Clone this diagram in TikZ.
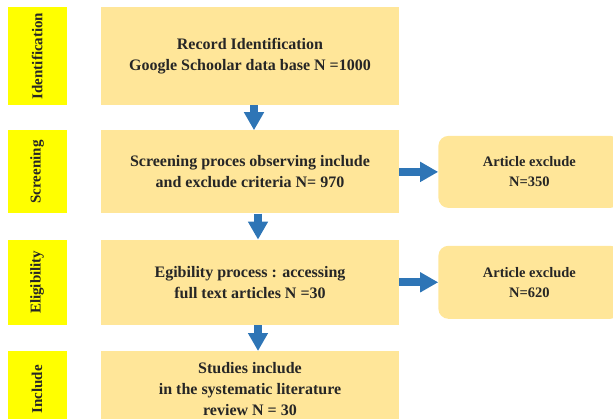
\documentclass[tikz,border=0pt]{standalone}
\usepackage{graphicx}
\usepackage{fontspec}
\setmainfont{Liberation Serif}
\usetikzlibrary{positioning}
\usetikzlibrary{arrows.meta}
\definecolor{boxfill}{HTML}{FFE699}
\definecolor{stagefill}{HTML}{FFFF00}
\definecolor{flowblue}{HTML}{2E75B6}
\definecolor{inktext}{HTML}{262626}
\tikzset{	node distance=26pt,
	x=1pt, y=1pt,
	procbox/.style={
		fill=boxfill,
		inner sep=0pt,
		minimum width=298pt,
		align=center,
		text=inktext,
		font=\fontsize{16}{21}\selectfont\bfseries},
	exclbox/.style={
		fill=boxfill,
		rounded corners=10pt,
		inner sep=0pt,
		minimum width=182pt,
		minimum height=72pt,
		align=center,
		text=inktext,
		font=\fontsize{14.5}{20}\selectfont\bfseries},
	stage/.style={
		fill=stagefill,
		inner sep=0pt,
		minimum width=59pt,
		text=inktext,
		font=\fontsize{15}{18}\selectfont\bfseries},
	every edge/.style={
		draw,
		flowblue,
		line width=8pt,
		-{Triangle[width=19pt,length=18pt]}}
}

\begin{document}
\begin{tikzpicture}
	\useasboundingbox (0,0) rectangle (613,418);
	\clip (0,0) rectangle (613,418);
	\node[procbox, minimum height=98pt] (rec) at (250,362) {Record Identification\\Google Schoolar data base N =1000};
	\node[procbox, minimum height=83pt, below=25pt of rec] (scr) {Screening proces observing include\\and exclude criteria N= 970};
	\node[procbox, minimum height=85pt, below=of scr] (eli) {Egibility process : accessing\\full text articles N =30};
	\node[procbox, minimum height=76pt, below=of eli] (inc) {Studies include\\in the systematic literature\\review N = 30};
	\node[stage, minimum height=98pt, left=34pt of rec] (idst) {\rotatebox{90}{Identification}};
	\node[stage, minimum height=83pt, left=34pt of scr] (scst) {\rotatebox{90}{Screening}};
	\node[stage, minimum height=85pt, left=34pt of eli] (elst) {\rotatebox{90}{Eligibility}};
	\node[stage, minimum height=76pt, left=34pt of inc] (inst) {\rotatebox{90}{Include}};
	\node[exclbox, right=39pt of scr] (ex1) {Article exclude\\N=350};
	\node[exclbox, minimum height=73pt, right=39pt of eli] (ex2) {Article exclude\\N=620};
	\draw ([xshift=4pt]rec.south) edge ([xshift=4pt]scr.north);
	\draw ([xshift=8pt]scr.south) edge ([xshift=8pt]eli.north);
	\draw ([xshift=8pt]eli.south) edge ([xshift=8pt]inc.north);
	\draw (scr) edge (ex1);
	\draw (eli) edge (ex2);
\end{tikzpicture}
\end{document}
